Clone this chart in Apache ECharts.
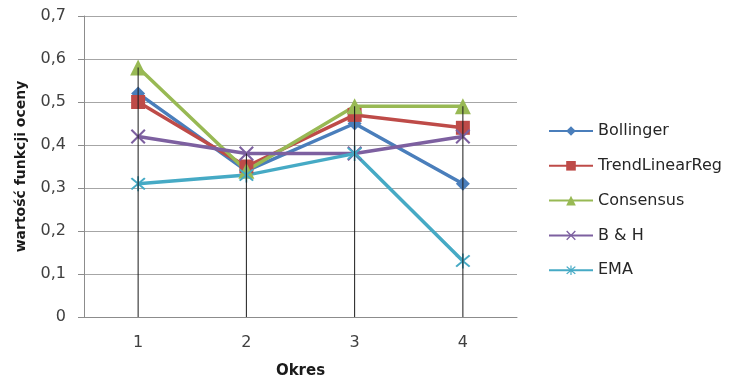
<!DOCTYPE html>
<html><head><meta charset="utf-8">
<script src="https://cdn.jsdelivr.net/npm/echarts@6/dist/echarts.min.js"></script>
<style>html,body{margin:0;padding:0;background:#fff}#c{width:735px;height:380px}</style>
</head><body><div id="c"></div>
<script>
var categories = ['1', '2', '3', '4'];
var bollinger = [0.52, 0.34, 0.45, 0.31];
var trendLinearReg = [0.50, 0.35, 0.47, 0.44];
var consensus = [0.58, 0.34, 0.49, 0.49];
var bh = [0.42, 0.38, 0.38, 0.42];
var ema = [0.31, 0.33, 0.38, 0.13];
var seriesNames = ['Bollinger', 'TrendLinearReg', 'Consensus', 'B & H', 'EMA'];
var yTicks = [0, 0.1, 0.2, 0.3, 0.4, 0.5, 0.6, 0.7];

var allSeries = [bollinger, trendLinearReg, consensus, bh, ema];
var dropTop = categories.map(function (c, i) {
  return Math.max.apply(null, allSeries.map(function (s) { return s[i]; }));
});

var xSym = 'path://M0,1L1,0L5,4L9,0L10,1L6,5L10,9L9,10L5,6L1,10L0,9L4,5Z';
var starSym = 'path://M0,1L1,0L5,4L9,0L10,1L6,5L10,9L9,10L5,6L1,10L0,9L4,5Z M4.4,-1L5.6,-1L5.6,11L4.4,11Z';
var colors = ['#4A7EBB', '#BE4B48', '#98B954', '#7D60A0', '#46AAC5'];
var symbols = ['diamond', 'rect', 'triangle', xSym, starSym];
var sizes = [14, 14, 16, 15, 15];
var font = 'DejaVu Sans';

var series = allSeries.map(function (d, i) {
  return {
    name: seriesNames[i], type: 'line', data: d,
    symbol: symbols[i], symbolSize: sizes[i], showAllSymbol: true,
    lineStyle: { color: colors[i], width: 3.5 },
    itemStyle: { color: colors[i] },
    z: 3
  };
});
series.push({
  name: 'drop', type: 'bar', data: dropTop, barWidth: 1, silent: true,
  itemStyle: { color: '#1a1a1a' }, z: 5
});

var chart = echarts.init(document.getElementById('c'));
chart.setOption({
  animation: false,
  grid: { left: 84, top: 16, width: 433, bottom: 63, containLabel: false, outerBoundsMode: 'none' },
  legend: {
    data: seriesNames, orient: 'vertical', left: 548, top: 123, padding: 0,
    itemWidth: 44, itemHeight: 12, itemGap: 18.8,
    textStyle: { fontFamily: font, fontSize: 16, color: '#262626' }
  },
  xAxis: {
    type: 'category', data: categories, boundaryGap: true,
    name: 'Okres', nameLocation: 'middle', nameGap: 47,
    nameTextStyle: { fontFamily: font, fontSize: 15, fontWeight: 'bold', color: '#1a1a1a' },
    axisLine: { lineStyle: { color: '#8c8c8c' } },
    axisTick: { show: false },
    axisLabel: { fontFamily: font, fontSize: 16, color: '#404040', margin: 18 }
  },
  yAxis: {
    type: 'value', min: 0, max: 0.7, interval: 0.1,
    name: 'wartość funkcji oceny', nameLocation: 'middle', nameGap: 56,
    nameTextStyle: { fontFamily: font, fontSize: 14, fontWeight: 'bold', color: '#1a1a1a' },
    axisLine: { show: true, lineStyle: { color: '#8c8c8c' } },
    axisTick: { show: true, inside: false, length: 6, lineStyle: { color: '#8c8c8c' } },
    splitLine: { lineStyle: { color: '#a6a6a6' } },
    axisLabel: {
      fontFamily: font, fontSize: 16, color: '#404040', margin: 18,
      formatter: function (v) {
        var t = yTicks.filter(function (y) { return Math.abs(y - v) < 1e-9; })[0];
        return t === 0 ? '0' : String(Math.round(v * 10) / 10).replace('.', ',');
      }
    }
  },
  series: series
});
</script></body></html>
